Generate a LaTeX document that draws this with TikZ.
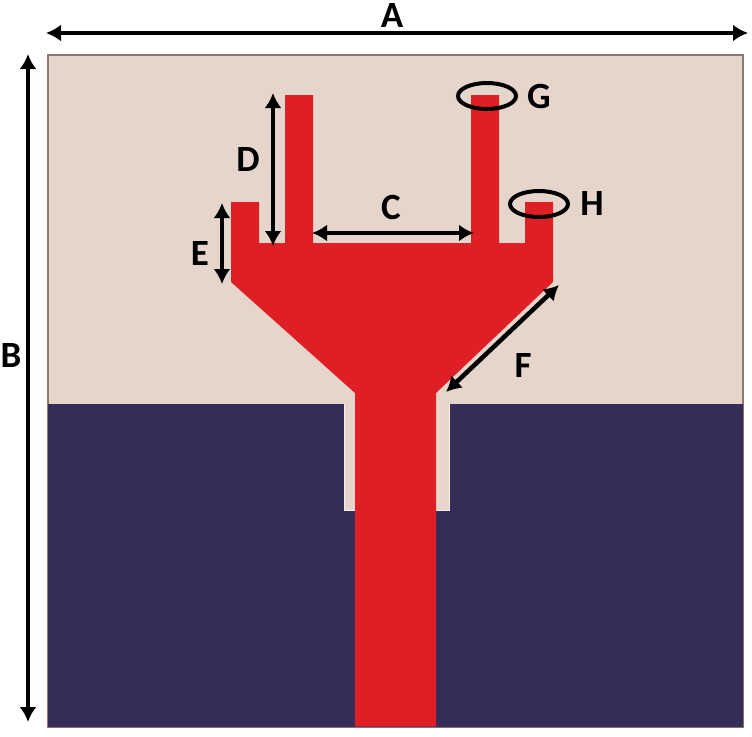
\documentclass[tikz,border=0pt]{standalone}
\usepackage{fontspec}
\setmainfont{Carlito}
\usetikzlibrary{arrows.meta,shapes.geometric}
\definecolor{boardcol}{HTML}{E6D5CB}
\definecolor{groundcol}{HTML}{352C58}
\definecolor{patchcol}{HTML}{DF1F26}
\definecolor{edgecol}{HTML}{8C7A70}
\definecolor{halocol}{HTML}{F8EFE2}
\tikzset{
	dimline/.style={line width=4.5pt,{Latex[length=15pt,width=17pt]}-{Latex[length=15pt,width=17pt]}},
	letter/.style={font=\fontsize{37}{37}\selectfont\bfseries,inner sep=0pt},
	ring/.style={draw=black,line width=4pt,ellipse,minimum width=58pt,minimum height=26pt,inner sep=0pt}
}
\begin{document}
\begin{tikzpicture}[x=1pt,y=-1pt]
	\useasboundingbox (0,0) rectangle (752,736);
	\draw[fill=boardcol,draw=edgecol,line width=1.5pt] (48,55) rectangle (743,727); %substrate
	\fill[groundcol] (48,404) -- (344,404) -- (344,510) -- (449,510) -- (449,404) -- (743,404) -- (743,727) -- (48,727) -- cycle; %ground
	\draw[halocol,line width=1pt] (344,404) -- (344,510) -- (449,510) -- (449,404); %slot edge
	\fill[patchcol] (355,726.5) -- (355,393) -- (231,282) -- (231,202) -- (259,202) -- (259,243) -- (285,243) -- (285,95) -- (313,95) -- (313,243) -- (471,243) -- (471,95) -- (499,95) -- (499,243) -- (525,243) -- (525,202) -- (553,202) -- (553,282) -- (436,393) -- (436,726.5) -- cycle; %patch and feed

	\node[ring] at (487,96) (ringG) {};
	\node[ring] at (539,204) (ringH) {};

	\node[letter] at (392,16) (labA) {A};
	\node[letter] at (11,355) (labB) {B};
	\node[letter] at (391,207) (labC) {C};
	\node[letter] at (248,160) (labD) {D};
	\node[letter] at (200,254) (labE) {E};
	\node[letter] at (523,365) (labF) {F};
	\node[letter] at (539,96) (labG) {G};
	\node[letter] at (592,204) (labH) {H};

	\coordinate (a1) at (46,33);
	\coordinate (a2) at (748,33);
	\coordinate (b1) at (28,54);
	\coordinate (b2) at (28,722);
	\coordinate (c1) at (312,233);
	\coordinate (c2) at (474,233);
	\coordinate (d1) at (273,93);
	\coordinate (d2) at (273,246);
	\coordinate (e1) at (222,203);
	\coordinate (e2) at (222,284);
	\coordinate (f1) at (559,285);
	\coordinate (f2) at (446,392);

	\draw[dimline] (a1) -- (a2);
	\draw[dimline] (b1) -- (b2);
	\draw[dimline] (c1) -- (c2);
	\draw[dimline] (d1) -- (d2);
	\draw[dimline] (e1) -- (e2);
	\draw[dimline] (f1) -- (f2);
\end{tikzpicture}
\end{document}
